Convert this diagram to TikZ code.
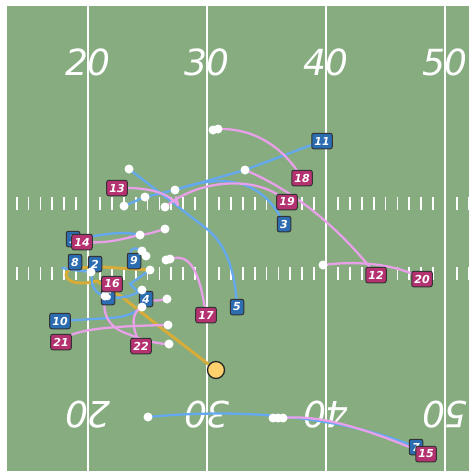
\documentclass[tikz,border=0pt]{standalone}
\usepackage{fontspec}
\setmainfont{DejaVu Sans}
\definecolor{cField}{RGB}{134,172,128}
\definecolor{cOff}{RGB}{44,108,176}
\definecolor{cDef}{RGB}{180,50,112}
\definecolor{cBlue}{RGB}{100,168,240}
\definecolor{cPink}{RGB}{232,160,232}
\definecolor{cGold}{RGB}{216,172,56}
\definecolor{cBall}{RGB}{255,208,110}
\pgfdeclarelayer{fieldl}\pgfdeclarelayer{routel}
\pgfsetlayers{fieldl,routel,main}
\begin{document}
\begin{tikzpicture}[x=1pt,y=-1pt,
 player/.style={draw=black!80, line width=1pt, rounded corners=2pt, text=white,
   font=\fontsize{11}{11}\selectfont\bfseries\itshape, inner xsep=2.6pt, inner ysep=0pt,
   minimum height=15.5pt, minimum width=13.5pt},
 offp/.style={player, fill=cOff},
 defp/.style={player, fill=cDef},
 wdot/.style={circle, fill=white, inner sep=0pt, minimum size=9pt},
 blueroute/.style={draw=cBlue, line width=2.3pt, line cap=round, line join=round},
 pinkroute/.style={draw=cPink, line width=2.3pt, line cap=round, line join=round},
 goldroute/.style={draw=cGold, line width=3pt, line cap=round, line join=round},
 yardline/.style={draw=white, line width=2.8pt},
 hashmark/.style={draw=white, line width=1.8pt},
 yardnum/.style={text=white, font=\fontsize{36}{36}\selectfont\itshape, inner sep=0pt}
]
\useasboundingbox (0,0) rectangle (469,471);
\begin{pgfonlayer}{fieldl}
\fill[cField] (7,6) rectangle (469,471);
\begin{scope}
\clip (7,6) rectangle (469,471);
\foreach \x in {88,207,326,445} \draw[yardline] (\x,6) -- (\x,471);
\foreach \s/\a/\b in {-31/4/9, 88/1/9, 207/1/9, 326/1/9, 445/1/2}
  \foreach \j in {\a,...,\b} {
    \draw[hashmark] ({\s+11.9*\j},197) -- ({\s+11.9*\j},210);
    \draw[hashmark] ({\s+11.9*\j},267) -- ({\s+11.9*\j},280);
  }
\end{scope}
\node[yardnum] (n20) at (88,62) {20};
\node[yardnum] (n30) at (207,62) {30};
\node[yardnum] (n40) at (326,62) {40};
\node[yardnum] (n50) at (445,62) {50};
\node[yardnum, rotate=180] (m20) at (88,415) {20};
\node[yardnum, rotate=180] (m30) at (207,415) {30};
\node[yardnum, rotate=180] (m40) at (326,415) {40};
\node[yardnum, rotate=180] (m50) at (445,415) {50};
\end{pgfonlayer}

% offense
\node[offp] (p1) at (73,239) {1};
\node[offp] (p2) at (95,264) {2};
\node[offp] (p3) at (284,224) {3};
\node[offp] (p4) at (146,299) {4};
\node[offp] (p5) at (237,307) {5};
\node[offp] (p6) at (108,297) {6};
\node[offp] (p7) at (416,447) {7};
\node[offp] (p8) at (75,262) {8};
\node[offp] (p9) at (134,261) {9};
\node[offp] (p10) at (60,321) {10};
\node[offp] (p11) at (322,141) {11};

% white dots
\node[wdot] (w1) at (129,169) {};
\node[wdot] (w2) at (175,190) {};
\node[wdot] (w3) at (145,197) {};
\node[wdot] (w4) at (124,206) {};
\node[wdot] (w5) at (165,207) {};
\node[wdot] (w6) at (245,170) {};
\node[wdot] (w7a) at (213,130) {};
\node[wdot] (w7) at (218,129) {};
\node[wdot] (w8) at (165,229) {};
\node[wdot] (w9) at (140,235) {};
\node[wdot] (w10a) at (142,251) {};
\node[wdot] (w10) at (146,256) {};
\node[wdot] (w11a) at (166,260) {};
\node[wdot] (w11) at (170,259) {};
\node[wdot] (w12) at (150,270) {};
\node[wdot] (w13) at (91,272) {};
\node[wdot] (w14) at (142,290) {};
\node[wdot] (w15) at (105,296) {};
\node[wdot] (w16) at (167,299) {};
\node[wdot] (w17) at (142,307) {};
\node[wdot] (w18) at (168,325) {};
\node[wdot] (w19) at (169,344) {};
\node[wdot] (w20) at (323,265) {};
\node[wdot] (w21) at (148,417) {};
\node[wdot] (w22a) at (273,418) {};
\node[wdot] (w22b) at (278,418) {};
\node[wdot] (w22) at (283,418) {};

% defense
\node[defp] (d12) at (376,275) {12};
\node[defp] (d13) at (117,188) {13};
\node[defp] (d14) at (82,242) {14};
\node[defp] (d15) at (426,454) {15};
\node[defp] (d16) at (112,284) {16};
\node[defp] (d17) at (206,315) {17};
\node[defp] (d18) at (302,178) {18};
\node[defp] (d19) at (287,202) {19};
\node[defp] (d20) at (422,279) {20};
\node[defp] (d21) at (61,342) {21};
\node[defp] (d22) at (141,346) {22};

\node[circle, draw=black!85, line width=1.3pt, fill=cBall, minimum size=17pt, inner sep=0pt] (ball) at (216,370) {};

\begin{pgfonlayer}{routel}
% gold
\draw[goldroute] (ball.center) -- (160,327) -- (122,297) -- (97,281)
  .. controls (85,284) and (68,285) .. (66,275)
  .. controls (65,266) and (85,268) .. (102,267) -- (w12.center);
% blue routes
\draw[blueroute] (p11.center) -- (w6.center) -- (w2.center) -- (w3.center) -- (w4.center);
\draw[blueroute] (p5.center) .. controls (235,268) and (225,244) .. (207,229) -- (w1.center);
\draw[blueroute] (p3.center) .. controls (266,185) and (232,170) .. (w2.center);
\draw[blueroute] (p1.center) .. controls (100,236) and (118,230) .. (w9.center);
\draw[blueroute] (p9.center) .. controls (124,248) and (138,243) .. (w10.center);
\coordinate (c8) at (62,268);
\draw[blueroute] (c8) -- (p8.south) -- (w13.center);
\draw[blueroute] (p2.center) .. controls (88,280) and (92,293) .. (w15.center);
\draw[blueroute] (p6.center) .. controls (118,299) and (132,297) .. (w14.center);
\draw[blueroute] (p4.center) -- (130,284) -- (w12.center);
\draw[blueroute] (p10.center) -- (110,318) .. controls (128,317) and (136,312) .. (w17.center);
\draw[blueroute] (p7.center) .. controls (340,416) and (240,408) .. (w21.center);
% pink routes
\draw[pinkroute] (d13.center) .. controls (150,187) and (168,193) .. (178,205) -- (176,197);
\draw[pinkroute] (d19.center) .. controls (260,175) and (200,178) .. (w5.center);
\draw[pinkroute] (d18.center) .. controls (282,145) and (252,128) .. (w7.center);
\draw[pinkroute] (d12.center) .. controls (345,235) and (300,193) .. (w6.center);
\draw[pinkroute] (d20.center) .. controls (400,265) and (360,260) .. (w20.center);
\draw[pinkroute] (d17.center) .. controls (200,275) and (192,252) .. (w11.center);
\draw[pinkroute] (d14.center) .. controls (110,244) and (125,238) .. (w9.center)
  .. controls (150,234) and (157,231) .. (w8.center);
\draw[pinkroute] (d16.center) .. controls (100,300) and (100,325) .. (128,334)
  .. controls (148,342) and (160,344) .. (w19.center);
\draw[pinkroute] (d22.center) .. controls (130,325) and (132,312) .. (w17.center);
\draw[pinkroute] (d21.center) .. controls (70,328) and (120,326) .. (w18.center);
\draw[pinkroute] (p4.center) .. controls (155,302) and (160,300) .. (w16.center);
\draw[pinkroute] (d15.center) .. controls (370,430) and (320,414) .. (w22.center);
\end{pgfonlayer}
\end{tikzpicture}
\end{document}
